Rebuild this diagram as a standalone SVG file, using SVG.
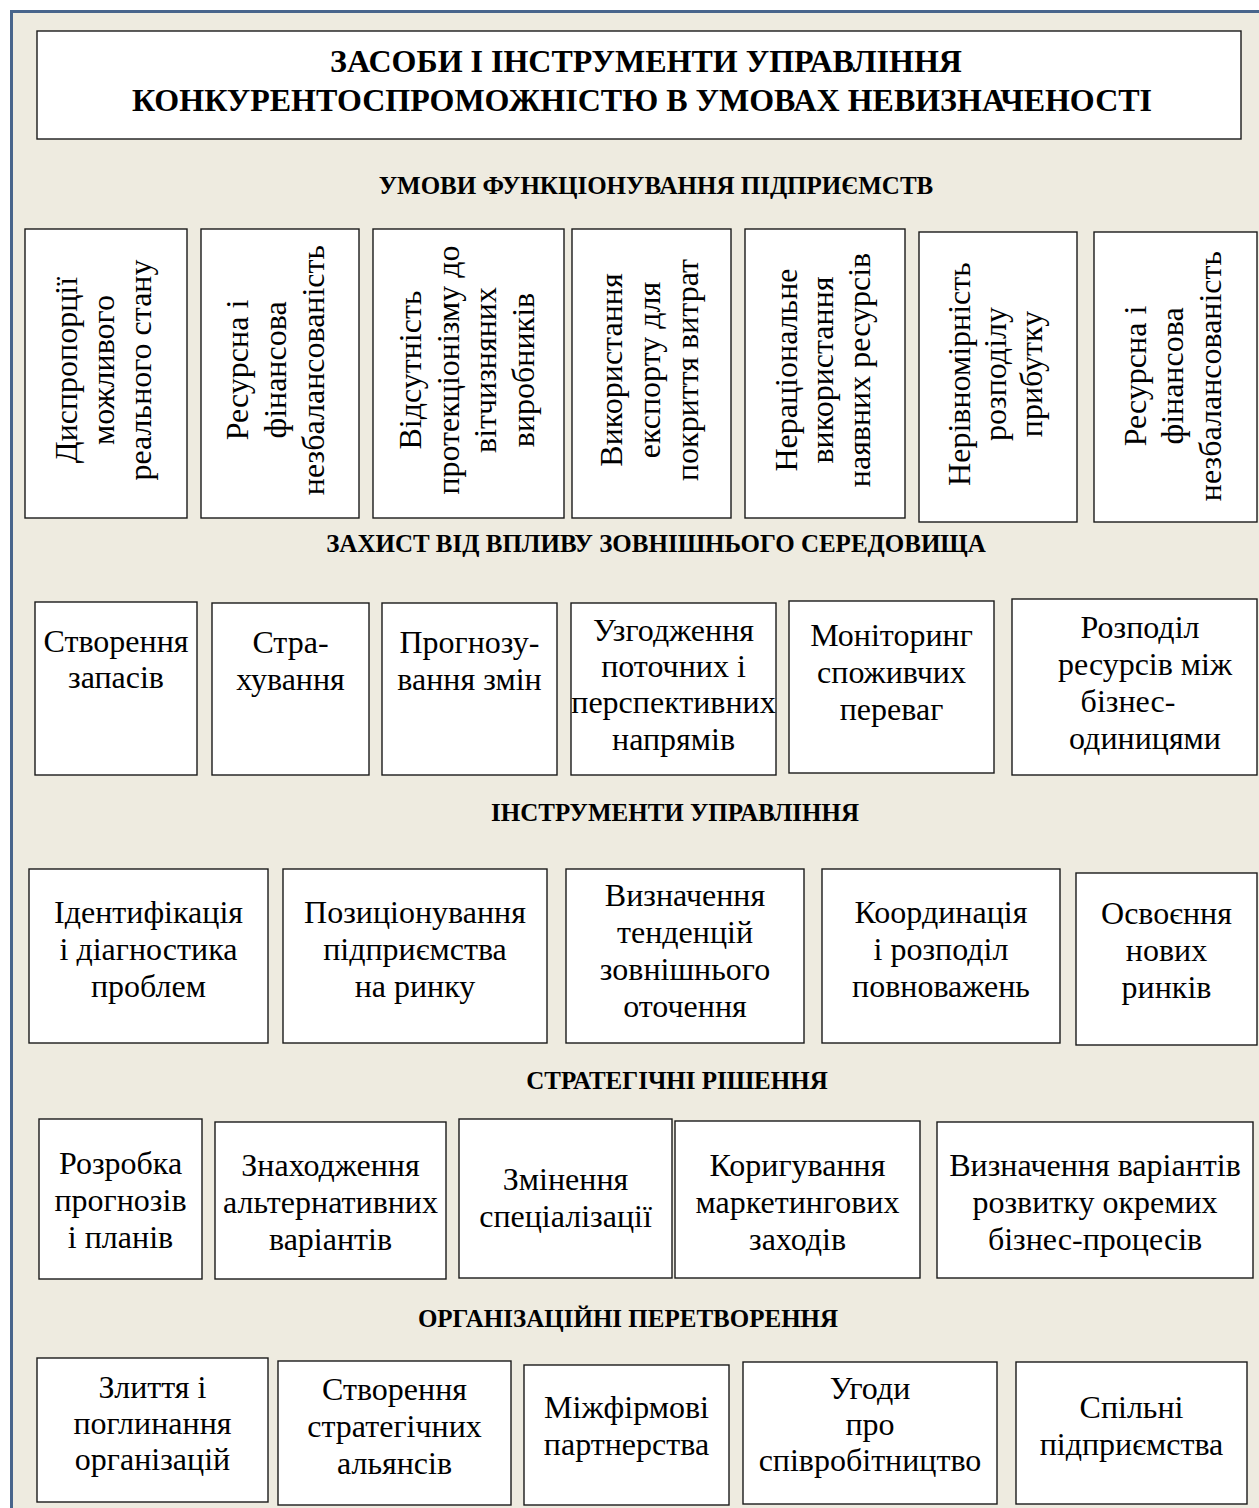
<svg xmlns="http://www.w3.org/2000/svg" width="1259" height="1508" viewBox="0 0 1259 1508">
<style>
.bg{fill:#EEEBE0}
.frame{fill:none;stroke:#48658C;stroke-width:3}
.box{fill:#FFFFFF;stroke:#1A1A1A;stroke-width:1.4}
.t{font-family:"Liberation Serif","Times New Roman",serif;font-size:32px;fill:#000;text-anchor:middle}
.h{font-family:"Liberation Serif","Times New Roman",serif;font-size:25px;font-weight:bold;fill:#000;text-anchor:middle}
.title{font-family:"Liberation Serif","Times New Roman",serif;font-size:32px;font-weight:bold;fill:#000;text-anchor:middle}
</style>
<rect x="0" y="0" width="1259" height="1508" fill="#FFFFFF"/>
<rect class="bg" x="11.5" y="11.5" width="1260" height="1510"/>
<rect class="frame" x="11.5" y="11.5" width="1260" height="1510"/>
<g id="connectors"></g>

<g id="title">
<rect class="box" x="37" y="31" width="1204" height="108"/>
<text class="title" x="646"><tspan x="646" y="72">ЗАСОБИ І ІНСТРУМЕНТИ УПРАВЛІННЯ</tspan><tspan x="642" y="111">КОНКУРЕНТОСПРОМОЖНІСТЮ В УМОВАХ НЕВИЗНАЧЕНОСТІ</tspan></text>
</g>

<g id="h1"><text class="h" x="656" y="194">УМОВИ ФУНКЦІОНУВАННЯ ПІДПРИЄМСТВ</text></g>

<g id="u1">
<rect class="box" x="25" y="229" width="162" height="289"/>
<text class="t" transform="translate(106,370) rotate(-90)"><tspan x="0" y="-29">Диспропорції</tspan><tspan x="0" y="8">можливого</tspan><tspan x="0" y="45">реального стану</tspan></text>
</g>
<g id="u2">
<rect class="box" x="201" y="229" width="158" height="289"/>
<text class="t" transform="translate(280,370) rotate(-90)"><tspan x="0" y="-32">Ресурсна і</tspan><tspan x="0" y="6">фінансова</tspan><tspan x="0" y="44">незбалансованість</tspan></text>
</g>
<g id="u3">
<rect class="box" x="373" y="229" width="191" height="289"/>
<text class="t" transform="translate(468,370) rotate(-90)"><tspan x="0" y="-47">Відсутність</tspan><tspan x="0" y="-9.5">протекціонізму до</tspan><tspan x="0" y="28">вітчизняних</tspan><tspan x="0" y="65.5">виробників</tspan></text>
</g>
<g id="u4">
<rect class="box" x="572" y="229" width="159" height="289"/>
<text class="t" transform="translate(651.5,370) rotate(-90)"><tspan x="0" y="-29.5">Використання</tspan><tspan x="0" y="8.5">експорту для</tspan><tspan x="0" y="46.5">покриття витрат</tspan></text>
</g>
<g id="u5">
<rect class="box" x="745" y="229" width="160" height="289"/>
<text class="t" transform="translate(825,370) rotate(-90)"><tspan x="0" y="-28">Нераціональне</tspan><tspan x="0" y="8">використання</tspan><tspan x="0" y="45">наявних ресурсів</tspan></text>
</g>
<g id="u6">
<rect class="box" x="919" y="232" width="158" height="290"/>
<text class="t" transform="translate(998,374) rotate(-90)"><tspan x="0" y="-28">Нерівномірність</tspan><tspan x="0" y="8">розподілу</tspan><tspan x="0" y="44">прибутку</tspan></text>
</g>
<g id="u7">
<rect class="box" x="1094" y="232" width="163" height="290"/>
<text class="t" transform="translate(1175,376) rotate(-90)"><tspan x="0" y="-29">Ресурсна і</tspan><tspan x="0" y="8">фінансова</tspan><tspan x="0" y="46">незбалансованість</tspan></text>
</g>

<g id="h2"><text class="h" x="656" y="552">ЗАХИСТ ВІД ВПЛИВУ ЗОВНІШНЬОГО СЕРЕДОВИЩА</text></g>

<g id="z1">
<rect class="box" x="35" y="602" width="162" height="173"/>
<text class="t"><tspan x="116" y="652">Створення</tspan><tspan x="116" y="688">запасів</tspan></text>
</g>
<g id="z2">
<rect class="box" x="212" y="603" width="157" height="172"/>
<text class="t"><tspan x="290.5" y="653">Стра-</tspan><tspan x="290.5" y="690">хування</tspan></text>
</g>
<g id="z3">
<rect class="box" x="382" y="603" width="175" height="172"/>
<text class="t"><tspan x="469.5" y="653">Прогнозу-</tspan><tspan x="469.5" y="690">вання змін</tspan></text>
</g>
<g id="z4">
<rect class="box" x="571" y="603" width="205" height="172"/>
<text class="t"><tspan x="673.5" y="641">Узгодження</tspan><tspan x="673.5" y="677">поточних і</tspan><tspan x="673.5" y="713">перспективних</tspan><tspan x="673.5" y="750">напрямів</tspan></text>
</g>
<g id="z5">
<rect class="box" x="789" y="601" width="205" height="172"/>
<text class="t"><tspan x="891.5" y="646">Моніторинг</tspan><tspan x="891.5" y="683">споживчих</tspan><tspan x="891.5" y="720">переваг</tspan></text>
</g>
<g id="z6">
<rect class="box" x="1012" y="599" width="245" height="176"/>
<text class="t"><tspan x="1140" y="638">Розподіл</tspan><tspan x="1145" y="675">ресурсів між</tspan><tspan x="1128" y="712">бізнес-</tspan><tspan x="1145" y="749">одиницями</tspan></text>
</g>

<g id="h3"><text class="h" x="675" y="821">ІНСТРУМЕНТИ УПРАВЛІННЯ</text></g>

<g id="i1">
<rect class="box" x="29" y="869" width="239" height="174"/>
<text class="t"><tspan x="148.5" y="923">Ідентифікація</tspan><tspan x="148.5" y="960">і діагностика</tspan><tspan x="148.5" y="997">проблем</tspan></text>
</g>
<g id="i2">
<rect class="box" x="283" y="869" width="264" height="174"/>
<text class="t"><tspan x="415" y="923">Позиціонування</tspan><tspan x="415" y="960">підприємства</tspan><tspan x="415" y="997">на ринку</tspan></text>
</g>
<g id="i3">
<rect class="box" x="566" y="869" width="238" height="174"/>
<text class="t"><tspan x="685" y="906">Визначення</tspan><tspan x="685" y="943">тенденцій</tspan><tspan x="685" y="980">зовнішнього</tspan><tspan x="685" y="1017">оточення</tspan></text>
</g>
<g id="i4">
<rect class="box" x="822" y="869" width="238" height="174"/>
<text class="t"><tspan x="941" y="923">Координація</tspan><tspan x="941" y="960">і розподіл</tspan><tspan x="941" y="997">повноважень</tspan></text>
</g>
<g id="i5">
<rect class="box" x="1076" y="873" width="181" height="172"/>
<text class="t"><tspan x="1166.5" y="924">Освоєння</tspan><tspan x="1166.5" y="961">нових</tspan><tspan x="1166.5" y="998">ринків</tspan></text>
</g>

<g id="h4"><text class="h" x="677" y="1089">СТРАТЕГІЧНІ РІШЕННЯ</text></g>

<g id="s1">
<rect class="box" x="39" y="1119" width="163" height="160"/>
<text class="t"><tspan x="120.5" y="1174">Розробка</tspan><tspan x="120.5" y="1211">прогнозів</tspan><tspan x="120.5" y="1248">і планів</tspan></text>
</g>
<g id="s2">
<rect class="box" x="215" y="1122" width="231" height="157"/>
<text class="t"><tspan x="330.5" y="1176">Знаходження</tspan><tspan x="330.5" y="1213">альтернативних</tspan><tspan x="330.5" y="1250">варіантів</tspan></text>
</g>
<g id="s3">
<rect class="box" x="459" y="1119" width="213" height="159"/>
<text class="t"><tspan x="565.5" y="1190">Змінення</tspan><tspan x="565.5" y="1227">спеціалізації</tspan></text>
</g>
<g id="s4">
<rect class="box" x="675" y="1121" width="245" height="157"/>
<text class="t"><tspan x="797.5" y="1176">Коригування</tspan><tspan x="797.5" y="1213">маркетингових</tspan><tspan x="797.5" y="1250">заходів</tspan></text>
</g>
<g id="s5">
<rect class="box" x="937" y="1122" width="316" height="156"/>
<text class="t"><tspan x="1095" y="1176">Визначення варіантів</tspan><tspan x="1095" y="1213">розвитку окремих</tspan><tspan x="1095" y="1250">бізнес-процесів</tspan></text>
</g>

<g id="h5"><text class="h" x="628" y="1327">ОРГАНІЗАЦІЙНІ ПЕРЕТВОРЕННЯ</text></g>

<g id="o1">
<rect class="box" x="37" y="1358" width="231" height="144"/>
<text class="t"><tspan x="152.5" y="1398">Злиття і</tspan><tspan x="152.5" y="1434">поглинання</tspan><tspan x="152.5" y="1470">організацій</tspan></text>
</g>
<g id="o2">
<rect class="box" x="278" y="1361" width="233" height="144"/>
<text class="t"><tspan x="394.5" y="1400">Створення</tspan><tspan x="394.5" y="1437">стратегічних</tspan><tspan x="394.5" y="1474">альянсів</tspan></text>
</g>
<g id="o3">
<rect class="box" x="524" y="1365" width="205" height="140"/>
<text class="t"><tspan x="626.5" y="1418">Міжфірмові</tspan><tspan x="626.5" y="1455">партнерства</tspan></text>
</g>
<g id="o4">
<rect class="box" x="743" y="1362" width="254" height="142"/>
<text class="t"><tspan x="870" y="1399">Угоди</tspan><tspan x="870" y="1435">про</tspan><tspan x="870" y="1471">співробітництво</tspan></text>
</g>
<g id="o5">
<rect class="box" x="1016" y="1362" width="231" height="142"/>
<text class="t"><tspan x="1131.5" y="1418">Спільні</tspan><tspan x="1131.5" y="1455">підприємства</tspan></text>
</g>
</svg>
